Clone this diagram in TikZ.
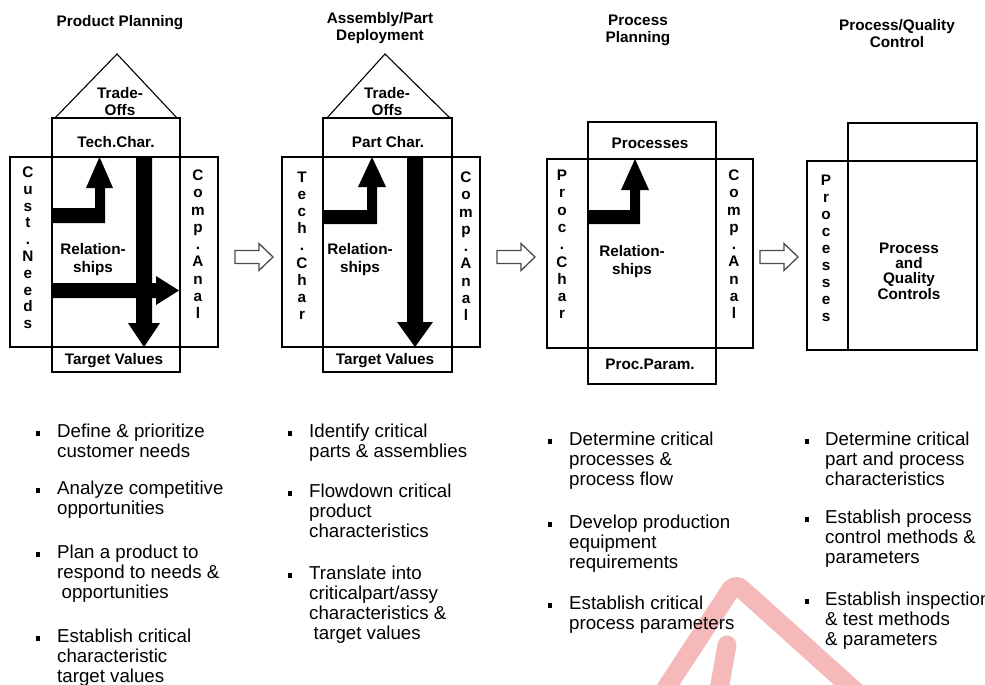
\documentclass[tikz,border=0pt]{standalone}
\usepackage{fontspec}
\setmainfont{Liberation Sans}
\definecolor{wmred}{RGB}{232,70,70}

% stacked vertical lettering: name, x, first baseline, pitch, letters
\newcommand\vword[5]{%
  \foreach \ch [count=\k] in {#5}
    \node[vl] (#1\k) at (#2,{#3+(\k-1)*#4}) {\ch};}

% one bulleted item: name, bullet x, text x, centre of first line, lines
\newcommand\bitem[5]{%
  \node[bul] (#1) at (#2,{#4+1}) {};
  \foreach \lin [count=\k] in {#5}
    \node[btxt] (#1-\k) at (#3,{#4+5+(\k-1)*20.3}) {\lin};}

% hollow block arrow between stages: name, left x, centre y
\newcommand\blockarrow[3]{%
  \coordinate (#1) at (#2,#3);
  \draw[hollow] (#1) ++(0,-6.5) -- ++(24,0) -- ++(0,-7) -- ++(14,13.5)
    -- ++(-14,13.5) -- ++(0,-7) -- ++(-24,0) -- cycle;}

\begin{document}
\begin{tikzpicture}[x=1pt,y=-1pt,
  box/.style={draw=black,line width=1.1pt},
  blk/.style={fill=black},
  hollow/.style={draw=black!70,line width=1.3pt,fill=white,line join=miter},
  lbl/.style={font=\bfseries\fontsize{15.3}{17}\selectfont,inner sep=0,align=center},
  rel/.style={font=\bfseries\fontsize{15.3}{18}\selectfont,inner sep=0,align=center},
  vl/.style={font=\bfseries\fontsize{15.3}{17}\selectfont,inner sep=0,anchor=base},
  btxt/.style={font=\fontsize{18.7}{20.3}\selectfont,inner sep=0,anchor=base west},
  bul/.style={fill=black,inner sep=0,minimum width=4pt,minimum height=5pt},
  wm/.style={draw=wmred,opacity=0.38,line width=19pt,line join=round,line cap=round}
]
\useasboundingbox (0,0) rectangle (985,685);

% faint warning-sign logo in the lower right
\draw[wm,rounded corners=8pt] (655,705) -- (735,583) -- (865,700);
\draw[wm] (727,645) -- (719,690);

% ---------------- Product Planning ----------------
\node[lbl] (title1) at (120,23) {Product Planning};
\draw[box] (52,118) rectangle (180,372);
\draw[box] (10,157) rectangle (218,347);
\draw[box] (55,118) -- (117,54) -- (177,118);
\node[lbl] (trade1) at (120,102) {Trade-\\Offs};
\node[lbl] (tech1) at (116,142) {Tech.Char.};
\node[lbl] (target1) at (114,361) {Target Values};
\node[rel] (rel1) at (93,260) {Relation-\\ships};
\fill[blk] (52,208) -- (95,208) -- (95,188) -- (86,188) -- (99.5,157) -- (113,188)
  -- (105,188) -- (105,223) -- (52,223) -- cycle;
\fill[blk] (136,157) -- (152,157) -- (152,323) -- (160,323) -- (144,347) -- (128,323)
  -- (136,323) -- cycle;
\fill[blk] (52,283) -- (156,283) -- (156,276) -- (179,290.5) -- (156,305) -- (156,298)
  -- (52,298) -- cycle;
\vword{cneeds}{28}{177.5}{16.8}{C,u,s,t,.,N,e,e,d,s}
\vword{canal}{198}{180.5}{17.25}{C,o,m,p,.,A,n,a,l}

\blockarrow{arrA}{235}{257}

% ---------------- Assembly/Part Deployment ----------------
\node[lbl] (title2) at (380,28.5) {Assembly/Part\\Deployment};
\draw[box] (323,118) rectangle (452,372);
\draw[box] (282,157) rectangle (480,347);
\draw[box] (327,118) -- (385,54) -- (450,118);
\node[lbl] (trade2) at (387,102) {Trade-\\Offs};
\node[lbl] (part2) at (388,142) {Part Char.};
\node[lbl] (target2) at (385,361) {Target Values};
\node[rel] (rel2) at (360,260) {Relation-\\ships};
\fill[blk] (323,210) -- (367,210) -- (367,187) -- (358,187) -- (372,157) -- (386,187)
  -- (377,187) -- (377,224) -- (323,224) -- cycle;
\fill[blk] (407,157) -- (423,157) -- (423,322) -- (433,322) -- (415,347) -- (397,322)
  -- (407,322) -- cycle;
\vword{tchar}{302}{182.5}{17.1}{T,e,c,h,.,C,h,a,r}
\vword{canalb}{466}{182.5}{17.25}{C,o,m,p,.,A,n,a,l}

\blockarrow{arrB}{497}{257}

% ---------------- Process Planning ----------------
\node[lbl] (title3) at (638,30) {Process\\Planning};
\draw[box] (588,122) rectangle (716,384);
\draw[box] (547,159) rectangle (753,348);
\node[lbl] (proc3) at (650,143) {Processes};
\node[lbl] (param3) at (650,364) {Proc.Param.};
\node[rel] (rel3) at (632,262) {Relation-\\ships};
\fill[blk] (588,210) -- (630,210) -- (630,190) -- (621,190) -- (635,159) -- (649,190)
  -- (640,190) -- (640,224) -- (588,224) -- cycle;
\vword{pchar}{562}{180.5}{17.3}{P,r,o,c,.,C,h,a,r}
\vword{canalc}{734}{180.5}{17.25}{C,o,m,p,.,A,n,a,l}

\blockarrow{arrC}{760}{257}

% ---------------- Process/Quality Control ----------------
\node[lbl] (title4) at (897,33.5) {Process/Quality\\Control};
\draw[box] (848,123) rectangle (977,161);
\draw[box] (848,161) rectangle (977,350);
\draw[box] (807,161) rectangle (848,350);
\vword{procs}{826}{185.5}{17}{P,r,o,c,e,s,s,e,s}
\node[font=\bfseries\fontsize{15.3}{15.3}\selectfont,inner sep=0,align=center]
  (pqc) at (909,271) {Process\\and\\Quality\\Controls};

% ---------------- bulleted notes ----------------
\bitem{pa}{38}{57}{432}{Define \& prioritize,customer needs}
\bitem{pb}{38}{57}{489}{Analyze competitive,opportunities}
\bitem{pc}{38}{57}{553}{Plan a product to,respond to needs \&,\hspace{4.5pt}opportunities}
\bitem{pd}{38}{57}{637}{Establish critical,characteristic,target values}

\bitem{aa}{290}{309}{432}{Identify critical,parts \& assemblies}
\bitem{ab}{290}{309}{492}{Flowdown critical,product,characteristics}
\bitem{ac}{290}{309}{574}{Translate into,criticalpart/assy,characteristics \&,\hspace{4.5pt}target values}

\bitem{ra}{550}{569}{440}{Determine critical,processes \&,process flow}
\bitem{rb}{550}{569}{523}{Develop production,equipment,requirements}
\bitem{rc}{550}{569}{604}{Establish critical,process parameters}

\bitem{qa}{807}{825}{440}{Determine critical,part and process,characteristics}
\bitem{qb}{807}{825}{518}{Establish process,control methods \&,parameters}
\bitem{qc}{807}{825}{600}{Establish inspection,\& test methods,\& parameters}
\end{tikzpicture}
\end{document}
